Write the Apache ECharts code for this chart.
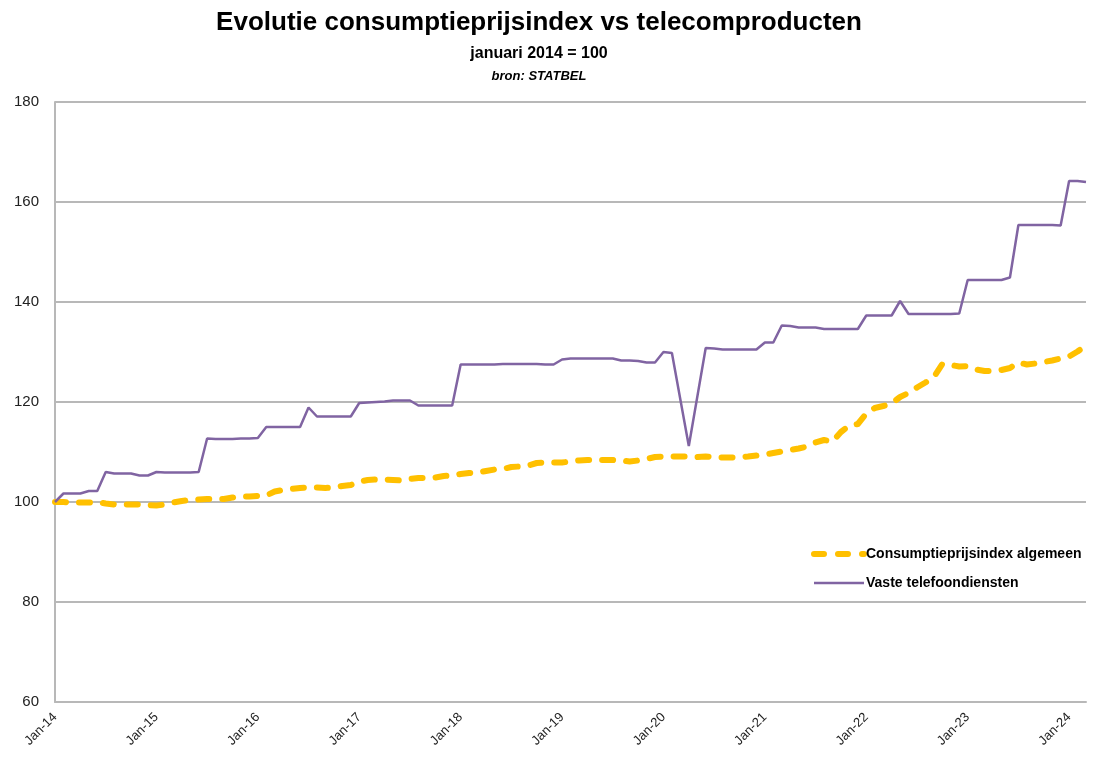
<!DOCTYPE html>
<html><head><meta charset="utf-8">
<script src="https://cdn.jsdelivr.net/npm/echarts@6/dist/echarts.min.js"></script>
<style>html,body{margin:0;padding:0;background:#fff}#c{width:1093px;height:757px}</style>
</head><body><div id="c"></div>
<script>
// Month abbreviations and years for category names (Jan-14 .. Mar-24)
const monthNames = ['Jan','Feb','Mar','Apr','May','Jun','Jul','Aug','Sep','Oct','Nov','Dec'];
const years = ['14','15','16','17','18','19','20','21','22','23','24'];
const monthCount = 123;

// Consumptieprijsindex algemeen (jan 2014 = 100)
const cpi = [
 100.0,100.0,99.9,99.9,99.9,100.0,99.7,99.5,99.5,99.5,99.5,99.4,
 99.3,99.5,99.9,100.2,100.4,100.5,100.6,100.6,100.6,100.9,101.1,101.1,
 101.2,101.3,102.1,102.4,102.6,102.8,102.9,102.9,102.8,102.9,103.2,103.4,
 104.1,104.4,104.5,104.5,104.4,104.3,104.6,104.8,104.8,104.9,105.2,105.3,
 105.6,105.8,105.9,106.2,106.5,106.6,107.0,107.1,107.3,107.8,107.9,107.9,
 107.9,108.1,108.3,108.4,108.4,108.4,108.4,108.3,108.1,108.3,108.6,109.0,
 109.1,109.1,109.1,109.1,109.0,109.1,109.0,108.9,108.9,109.0,109.1,109.3,
 109.5,109.8,110.1,110.4,110.7,111.1,111.9,112.4,112.1,114.0,115.3,115.6,
 117.7,118.8,119.2,119.7,121.0,121.8,122.9,123.9,125.0,127.6,127.4,127.1,
 127.2,126.5,126.2,126.2,126.4,126.8,127.9,127.5,127.7,128.0,128.3,128.7,
 129.1,130.1,131.3
];

// Vaste telefoondiensten (jan 2014 = 100); null = no observation (connected)
const vast = [
 100.0,101.7,101.7,101.7,102.2,102.2,106.0,105.7,105.7,105.7,105.3,105.3,
 106.0,105.9,105.9,105.9,105.9,106.0,112.7,112.6,112.6,112.6,112.7,112.7,
 112.8,115.0,115.0,115.0,115.0,115.0,118.9,117.1,117.1,117.1,117.1,117.1,
 119.8,119.9,120.0,120.1,120.3,120.3,120.3,119.3,119.3,119.3,119.3,119.3,
 127.5,127.5,127.5,127.5,127.5,127.6,127.6,127.6,127.6,127.6,127.5,127.5,
 128.5,128.7,128.7,128.7,128.7,128.7,128.7,128.3,128.3,128.2,127.9,127.9,
 130.0,129.8,null,111.2,null,130.8,130.7,130.5,130.5,130.5,130.5,130.5,
 131.9,131.9,135.3,135.2,134.9,134.9,134.9,134.6,134.6,134.6,134.6,134.6,
 137.3,137.3,137.3,137.3,140.2,137.6,137.6,137.6,137.6,137.6,137.6,137.7,
 144.4,144.4,144.4,144.4,144.4,144.9,155.4,155.4,155.4,155.4,155.4,155.3,
 164.2,164.2,164.0
];

const categories = [];
for (let i = 0; i < monthCount; i++) {
  categories.push(monthNames[i % 12] + '-' + years[Math.floor(i / 12)]);
}

const FONT = "'Liberation Sans',Arial,sans-serif";
const chart = echarts.init(document.getElementById('c'));
chart.setOption({
  animation: false,
  backgroundColor: '#ffffff',
  title: [
    {text: 'Evolutie consumptieprijsindex vs telecomproducten', left: 534, top: 5, textAlign: 'center',
     textStyle: {fontFamily: FONT, fontSize: 26, fontWeight: 'bold', color: '#000'}},
    {text: 'januari 2014 = 100', left: 534, top: 41, textAlign: 'center',
     textStyle: {fontFamily: FONT, fontSize: 16, fontWeight: 'bold', color: '#000'}},
    {text: 'bron: STATBEL', left: 534, top: 65, textAlign: 'center',
     textStyle: {fontFamily: FONT, fontSize: 13, fontWeight: 'bold', fontStyle: 'italic', color: '#000'}}
  ],
  legend: {
    orient: 'vertical', left: 806, top: 542, itemGap: 15, itemWidth: 50, itemHeight: 14,
    itemStyle: {opacity: 0},
    textStyle: {fontFamily: FONT, fontSize: 14, fontWeight: 'bold', color: '#000', padding: [0,0,0,-3]},
    data: [
      {name: 'Consumptieprijsindex algemeen', lineStyle: {width: 6, type: [10, 14], cap: 'round'}},
      {name: 'Vaste telefoondiensten', lineStyle: {width: 2.5}}
    ]
  },
  grid: {left: 55, right: 7, top: 102, bottom: 55, containLabel: false},
  xAxis: {
    type: 'category', data: categories, boundaryGap: false,
    axisLine: {show: true, lineStyle: {color: '#b8b8b8', width: 2}},
    axisTick: {show: false},
    axisLabel: {
      interval: function (i) { return i % 12 === 0; },
      rotate: 45, margin: 13, color: '#222', fontFamily: FONT, fontSize: 13
    },
    splitLine: {show: false}
  },
  yAxis: {
    type: 'value', min: 60, max: 180, interval: 20,
    axisLine: {show: true, lineStyle: {color: '#b8b8b8', width: 2}},
    axisTick: {show: false},
    axisLabel: {color: '#222', fontFamily: FONT, fontSize: 15, margin: 16},
    splitLine: {show: true, lineStyle: {color: '#b8b8b8', width: 2}}
  },
  series: [
    {name: 'Consumptieprijsindex algemeen', type: 'line', data: cpi, symbol: 'none', showSymbol: false,
     z: 3, lineStyle: {color: '#FFC000', width: 6, type: [11, 13], cap: 'round', join: 'round'},
     itemStyle: {color: '#FFC000'}},
    {name: 'Vaste telefoondiensten', type: 'line', data: vast, symbol: 'none', showSymbol: false,
     connectNulls: true, z: 4, lineStyle: {color: '#8064A2', width: 2.5},
     itemStyle: {color: '#8064A2'}}
  ]
});
</script></body></html>
